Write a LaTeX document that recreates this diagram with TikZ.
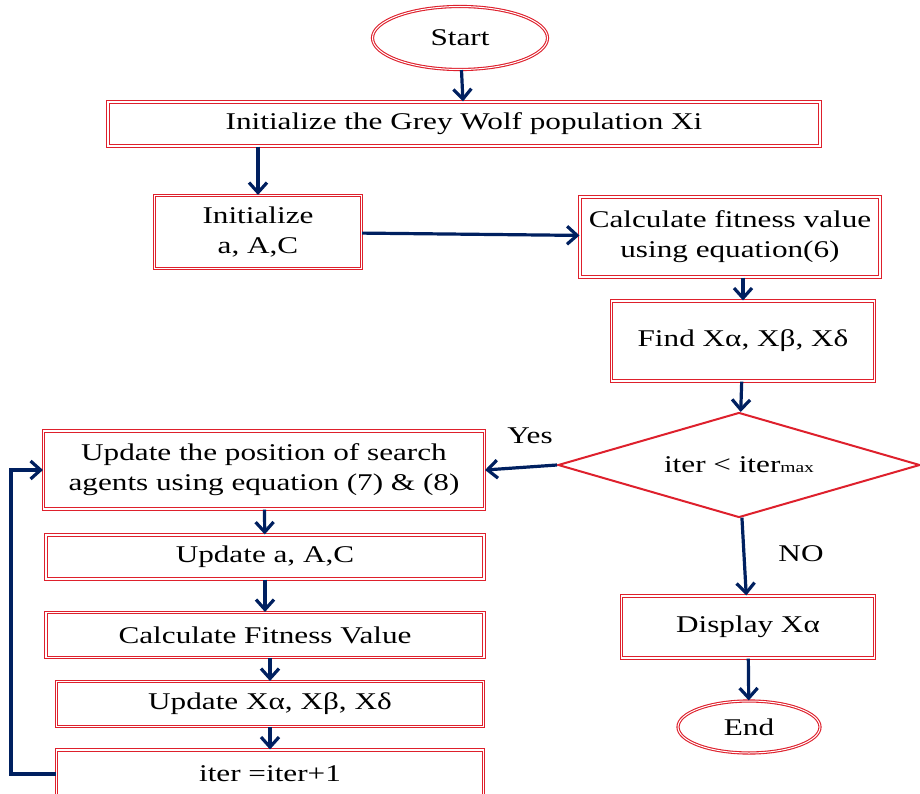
\documentclass[tikz,border=0pt]{standalone}
\usepackage{fontspec}
\setmainfont[FakeStretch=1.3]{Liberation Serif}
\usetikzlibrary{arrows.meta,shapes.geometric,positioning}
\definecolor{boxred}{RGB}{222,32,44}
\definecolor{arrownavy}{RGB}{0,32,96}
\tikzset{
    frame/.style={
        rectangle, draw=boxred,
        double=white, double distance=1.2pt,
        line width=1.1pt,
        align=center,
        inner sep=2pt,
    },
    term/.style={
        ellipse, draw=boxred,
        double=white, double distance=1pt,
        line width=1.1pt,
        inner sep=0pt,
    },
    decide/.style={
        diamond, draw=boxred,
        line width=2pt,
        aspect=3.4,
        inner sep=0pt,
    },
    line/.style={
        draw=arrownavy, line width=3.2pt,
        -{Straight Barb[length=10pt,width=18pt]},
    },
    lbl/.style={
        inner sep=0pt,
    },
}
\begin{document}
\begin{tikzpicture}[x=1pt,y=-1pt,font=\fontsize{24}{30}\selectfont]
                \useasboundingbox (0,0) rectangle (920,794);
                \node [term, minimum width=175pt, minimum height=63pt] (start) at (460,38) {Start};
                \node [frame, minimum width=712pt, minimum height=44pt] (init) at (464,124) {Initialize the Grey Wolf population Xi};
                \node [frame, minimum width=207pt, minimum height=73pt] (initA) at (258,232) {Initialize\\ a, A,C};
                \node [frame, minimum width=300pt, minimum height=80pt] (fit) at (730,237) {Calculate fitness value\\ using equation(6)};
                \node [frame, minimum width=263pt, minimum height=80pt] (find) at (743,341) {Find Xα, Xβ, Xδ};
                \node [decide, minimum width=362pt, minimum height=105pt] (check) at (739,465) {iter < iter{\fontsize{15}{15}\selectfont max}};
                \node [frame, minimum width=441pt, minimum height=78pt] (move) at (264,470) {Update the position of search\\ agents using equation (7) \& (8)};
                \node [frame, minimum width=438pt, minimum height=44pt] (coef) at (265,557) {Update a, A,C};
                \node [frame, minimum width=438pt, minimum height=45pt] (refit) at (265,635) {Calculate Fitness Value};
                \node [frame, minimum width=427pt, minimum height=45pt] (lead) at (270,704) {Update Xα, Xβ, Xδ};
                \node [frame, minimum width=427pt, minimum height=48pt] (count) at (270,774) {iter =iter+1};
                \node [frame, minimum width=253pt, minimum height=62pt] (show) at (748,627) {Display Xα};
                \node [term, minimum width=142pt, minimum height=52pt] (stop) at (749,727) {End};
                \node [lbl] (yes) at (530,436) {Yes};
                \node [lbl] (no) at (801,554) {NO};
                % right branch
                \draw[line] (start) -- (init);
                \draw[line] (init.south -| initA.north) -- (initA.north);
                \draw[line] (initA) -- (fit);
                \draw[line] (fit.south -| find.north) -- (find);
                \draw[line] (find) -- (check);
                \draw[line] (check) -- (show);
                \draw[line] (show) -- (stop);
                % loop
                \draw[line] (check.west) -- (move.east);
                \draw[line] (move) -- (coef);
                \draw[line] (coef) -- (refit);
                \draw[line] (refit.south -| lead.north) -- (lead);
                \draw[line] (lead) -- (count);
                \draw[line] (count.west) -- ++(-45,0) |- (move.west);
            \end{tikzpicture}
\end{document}
